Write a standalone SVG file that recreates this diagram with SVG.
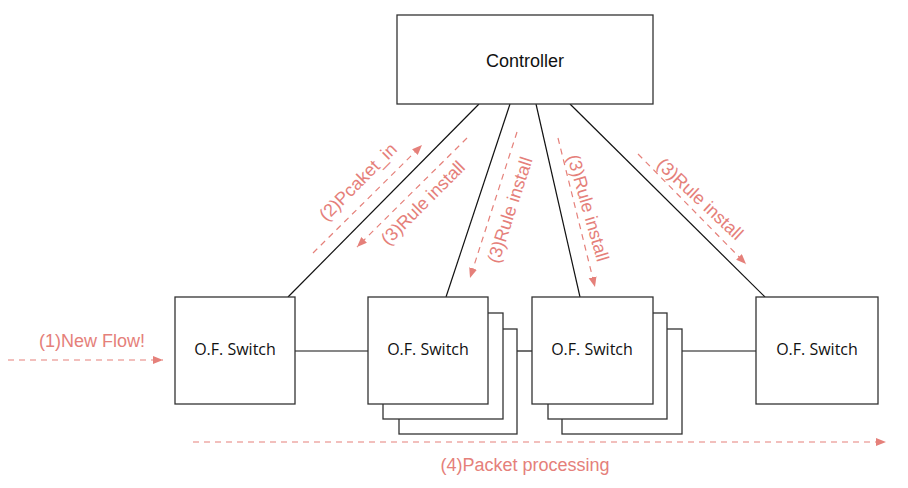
<svg xmlns="http://www.w3.org/2000/svg" width="908" height="488" viewBox="0 0 908 488">
<style>
.box{fill:#fff;stroke:#333;stroke-width:1.3}
.link{stroke:#111;stroke-width:1.2;fill:none}
.flow{stroke:#E5807A;stroke-width:1.2;stroke-dasharray:6 5;fill:none}
.lbl{font-family:"Liberation Sans",Arial,sans-serif;font-size:18px;fill:#E5807A;text-anchor:middle}
.nt{font-family:"Open Sans","Noto Sans",sans-serif;font-size:16px;fill:#111;text-anchor:middle}
.ct{font-family:"Liberation Sans",Arial,sans-serif;font-size:18px;fill:#111;text-anchor:middle}
</style>
<defs>
<marker id="ah" markerUnits="userSpaceOnUse" markerWidth="12" markerHeight="10" refX="10" refY="4" orient="auto">
<path d="M0,0 L10,4 L0,8 z" fill="#E5807A"/>
</marker>
</defs>
<rect width="908" height="488" fill="#fff"/>
<g id="connectors">
<line class="link" x1="479" y1="104" x2="288" y2="297"/>
<line class="link" x1="510" y1="104" x2="446" y2="297"/>
<line class="link" x1="536" y1="104" x2="580" y2="297"/>
<line class="link" x1="570" y1="104" x2="765" y2="297"/>
<line class="link" x1="295" y1="351" x2="368" y2="351"/>
<line class="link" x1="517" y1="351" x2="532" y2="351"/>
<line class="link" x1="682" y1="351" x2="756" y2="351"/>
</g>
<g id="controller">
<rect class="box" x="397" y="15" width="256" height="89"/>
<text class="ct" x="525" y="67">Controller</text>
</g>
<g id="switch1">
<rect class="box" x="175" y="297" width="120" height="107"/>
<text class="nt" x="235" y="355">O.F. Switch</text>
</g>
<g id="switch2">
<rect class="box" x="399" y="329" width="118" height="105"/>
<rect class="box" x="383" y="313" width="120" height="106"/>
<rect class="box" x="368" y="297" width="120" height="107"/>
<text class="nt" x="428" y="355">O.F. Switch</text>
</g>
<g id="switch3">
<rect class="box" x="562" y="329" width="120" height="105"/>
<rect class="box" x="548" y="313" width="119" height="106"/>
<rect class="box" x="532" y="297" width="121" height="107"/>
<text class="nt" x="592" y="355">O.F. Switch</text>
</g>
<g id="switch4">
<rect class="box" x="756" y="297" width="122" height="107"/>
<text class="nt" x="817" y="355">O.F. Switch</text>
</g>
<g id="flows">
<line class="flow" x1="8" y1="360" x2="163" y2="360" marker-end="url(#ah)"/>
<line class="flow" x1="313" y1="253" x2="422" y2="145" marker-end="url(#ah)"/>
<line class="flow" x1="467" y1="138" x2="357" y2="247" marker-end="url(#ah)"/>
<line class="flow" x1="517" y1="132" x2="470" y2="278" marker-end="url(#ah)"/>
<line class="flow" x1="558" y1="138" x2="595" y2="287" marker-end="url(#ah)"/>
<line class="flow" x1="638" y1="154" x2="746" y2="264" marker-end="url(#ah)"/>
<line class="flow" x1="193" y1="442" x2="886" y2="442" marker-end="url(#ah)"/>
</g>
<g id="labels">
<text class="lbl" x="92" y="347">(1)New Flow!</text>
<text class="lbl" transform="translate(358,182) rotate(-45)" y="6">(2)Pcaket_in</text>
<text class="lbl" transform="translate(423,203) rotate(-45)" y="6">(3)Rule install</text>
<text class="lbl" transform="translate(510,210) rotate(-72)" y="6">(3)Rule install</text>
<text class="lbl" transform="translate(588,208) rotate(74)" y="6">(3)Rule install</text>
<text class="lbl" transform="translate(700,199) rotate(43)" y="6">(3)Rule install</text>
<text class="lbl" x="525" y="471">(4)Packet processing</text>
</g>
</svg>
